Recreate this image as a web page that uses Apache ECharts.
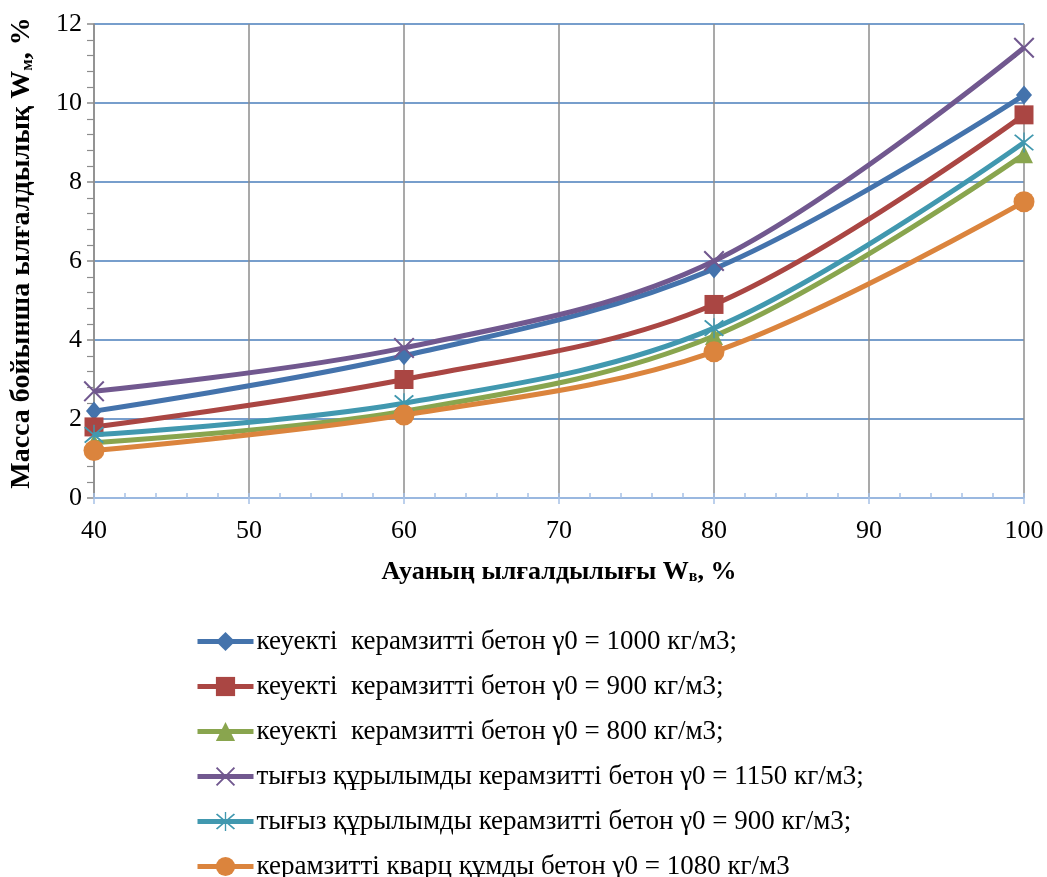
<!DOCTYPE html>
<html>
<head>
<meta charset="utf-8">
<script src="https://cdn.jsdelivr.net/npm/echarts@6/dist/echarts.min.js"></script>
<style>
  html, body { margin: 0; padding: 0; background: #fff; }
  #chart { width: 1047px; height: 877px; }
</style>
</head>
<body>
<div id="chart"></div>
<script>
// Air humidity (x) and mass moisture content of the concretes (y)
const humidity = [40, 60, 80, 100];

const seriesNames = [
  'кеуекті  керамзитті бетон γ0 = 1000 кг/м3;',
  'кеуекті  керамзитті бетон γ0 = 900 кг/м3;',
  'кеуекті  керамзитті бетон γ0 = 800 кг/м3;',
  'тығыз құрылымды керамзитті бетон γ0 = 1150 кг/м3;',
  'тығыз құрылымды керамзитті бетон γ0 = 900 кг/м3;',
  'керамзитті кварц құмды бетон γ0 = 1080 кг/м3'
];

const porous1000 = [2.2, 3.6, 5.8, 10.2];
const porous900 = [1.8, 3.0, 4.9, 9.7];
const porous800 = [1.4, 2.2, 4.1, 8.7];
const dense1150 = [2.7, 3.8, 6.0, 11.4];
const dense900 = [1.6, 2.4, 4.3, 9.0];
const quartz1080 = [1.2, 2.1, 3.7, 7.5];

const xTicks = [40, 50, 60, 70, 80, 90, 100];
const yTicks = [0, 2, 4, 6, 8, 10, 12];

const colors = ['#4473AC', '#AA4643', '#89A54E', '#71588F', '#4198AF', '#DB843D'];

// thin "x" and asterisk markers
const crossPath = 'path://M0,1.4 L1.4,0 L10,8.6 L18.6,0 L20,1.4 L11.4,10 L20,18.6 L18.6,20 L10,11.4 L1.4,20 L0,18.6 L8.6,10 Z';
const starPath = 'path://M0,1.4 L1.4,0 L10,8.6 L18.6,0 L20,1.4 L11.4,10 L20,18.6 L18.6,20 L10,11.4 L1.4,20 L0,18.6 L8.6,10 Z M9.3,-2 L10.7,-2 L10.7,22 L9.3,22 Z';

const symbols = ['diamond', 'rect', 'triangle', crossPath, starPath, 'circle'];
const symbolSizes = [[16, 19], 19, 18, 21, 20, 21];
const values = [porous1000, porous900, porous800, dense1150, dense900, quartz1080];

const FONT = '"Liberation Serif", "Times New Roman", serif';

const series = values.map((vals, i) => ({
  name: seriesNames[i],
  type: 'line',
  data: humidity.map((h, k) => [h, vals[k]]),
  smooth: 0.35,
  symbol: symbols[i],
  symbolSize: symbolSizes[i],
  showAllSymbol: true,
  lineStyle: { color: colors[i], width: 5 },
  itemStyle: { color: colors[i], borderWidth: 0 },
  emphasis: { disabled: true },
  z: 2 + i
}));

const richFor = (size, sub) => ({
  b: { fontFamily: FONT, fontSize: size, fontWeight: 'bold', color: '#000' },
  s: { fontFamily: FONT, fontSize: sub, fontWeight: 'bold', color: '#000', verticalAlign: 'bottom', padding: [10, 0, 0, 0] }
});

const chart = echarts.init(document.getElementById('chart'));
chart.setOption({
  animation: false,
  color: colors,
  grid: { left: 93, right: 23, top: 24, bottom: 379, containLabel: false },
  xAxis: [
    {
      type: 'value', min: 40, max: 100, interval: 10,
      axisLine: { show: true, lineStyle: { color: '#A7C1E6', width: 1.5 } },
      axisTick: { show: true, inside: false, length: 6, lineStyle: { color: '#A7C1E6', width: 1.5 } },
      axisLabel: {
        fontFamily: FONT, fontSize: 26, color: '#000', margin: 20,
        formatter: v => xTicks.includes(v) ? String(v) : ''
      },
      splitLine: { show: true, lineStyle: { color: '#8C8C8C', width: 1.5 } },
      name: '{b|Ауаның ылғалдылығы W}{s|в}{b|, %}',
      nameLocation: 'middle', nameGap: 61,
      nameTextStyle: { rich: richFor(26, 16) }
    },
    {
      // minor ticks every 2 %, pointing into the plot
      type: 'value', min: 40, max: 100, interval: 2, position: 'bottom',
      axisLine: { show: false },
      axisTick: { show: true, inside: true, length: 5, lineStyle: { color: '#A7C1E6', width: 1.5 } },
      axisLabel: { show: false },
      splitLine: { show: false }
    }
  ],
  yAxis: {
    type: 'value', min: 0, max: 12, interval: 2,
    axisLine: { show: true, lineStyle: { color: '#8C8C8C', width: 1.5 } },
    axisTick: { show: true, inside: false, length: 7, lineStyle: { color: '#8C8C8C', width: 1.5 } },
    minorTick: { show: true, splitNumber: 5, length: 7, lineStyle: { color: '#8C8C8C', width: 1.2 } },
    axisLabel: {
      fontFamily: FONT, fontSize: 26, color: '#000', margin: 12,
      formatter: v => yTicks.includes(v) ? String(v) : ''
    },
    splitLine: { show: true, lineStyle: { color: '#4A7EBB', width: 1.5 } },
    name: '{b|Масса бойынша ылғалдылық W}{s|м}{b|, %}',
    nameLocation: 'middle', nameGap: 58,
    nameTextStyle: { rich: richFor(28, 17), padding: [0, 0, 0, 16] }
  },
  legend: {
    orient: 'vertical', left: 190, top: 623, height: 260,
    itemWidth: 56, itemHeight: 24, itemGap: 18,
    lineStyle: { width: 5 },
    textStyle: { fontFamily: FONT, fontSize: 27, color: '#000', padding: [0, 0, 0, -2] },
    data: seriesNames
  },
  series: series
});
</script>
</body>
</html>
